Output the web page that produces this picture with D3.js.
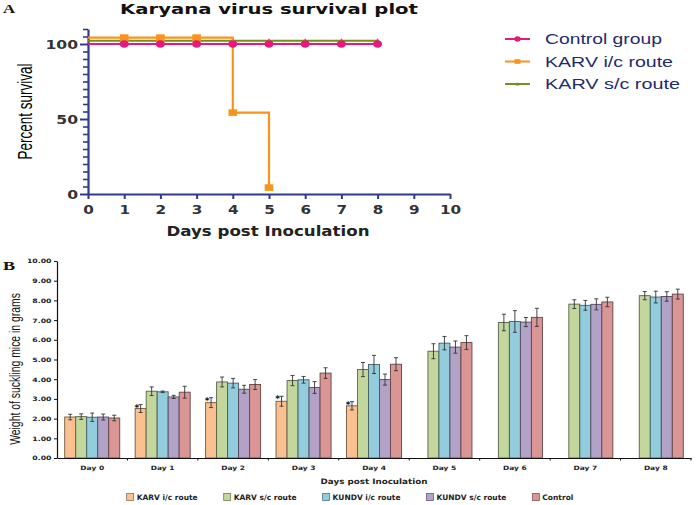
<!DOCTYPE html>
<html><head><meta charset="utf-8">
<script src="https://cdn.jsdelivr.net/npm/d3@7/dist/d3.min.js"></script>
<style>html,body{margin:0;padding:0;background:#fff}svg{display:block}</style>
</head><body>
<script>
// ---------- Panel A data ----------
const survivalDays = [0,1,2,3,4,5,6,7,8];
const controlSurvival = [100,100,100,100,100,100,100,100,100];
const karvScSurvival = [100,100,100,100,100,100,100,100,100];
const karvIcDays = [0,1,2,3,4,5];
const karvIcSurvival = [100,100,100,100,50,0];
const survivalXTicks = [0,1,2,3,4,5,6,7,8,9,10];
const survivalYTicks = [0,50,100];
const survivalLegend = ["Control group","KARV i/c route","KARV s/c route"];

// ---------- Panel B data ----------
const days = ["Day 0","Day 1","Day 2","Day 3","Day 4","Day 5","Day 6","Day 7","Day 8"];
const groups = ["KARV i/c route","KARV s/c route","KUNDV i/c route","KUNDV s/c route","Control"];
const karvIcWeight   = [2.08,2.51,2.81,2.88,2.65,null,null,null,null];
const karvIcErr      = [0.14,0.20,0.25,0.25,0.21,null,null,null,null];
const karvScWeight   = [2.10,3.39,3.86,3.93,4.49,5.42,6.88,7.81,8.24];
const karvScErr      = [0.14,0.22,0.25,0.26,0.36,0.38,0.42,0.22,0.21];
const kundvIcWeight  = [2.07,3.36,3.80,3.97,4.75,5.83,6.93,7.75,8.17];
const kundvIcErr     = [0.21,0.04,0.24,0.17,0.46,0.34,0.55,0.25,0.30];
const kundvScWeight  = [2.08,3.10,3.49,3.58,3.98,5.63,6.90,7.80,8.20];
const kundvScErr     = [0.15,0.08,0.20,0.30,0.28,0.31,0.23,0.28,0.24];
const controlWeight  = [2.03,3.34,3.73,4.31,4.76,5.86,7.14,7.92,8.32];
const controlErr     = [0.14,0.30,0.25,0.27,0.33,0.35,0.46,0.24,0.25];
const karvIcSignificant = [false,true,true,true,true,false,false,false,false];
const weightYTicks = [0,1,2,3,4,5,6,7,8,9,10];

const W = 696, H = 505;
const svg = d3.select("body").append("svg").attr("width",W).attr("height",H)
  .style("background","#fff");

function stretchText(sel, sx){
  sel.each(function(){
    const t = d3.select(this);
    const x = +(t.attr("x")||0), y = +(t.attr("y")||0);
    t.attr("x",null).attr("y",null).attr("transform",`translate(${x},${y}) scale(${sx},1)`);
  });
}

// =================== PANEL A ===================
const navy = "#2e3a8c";
const xA = d3.scaleLinear().domain([0,10]).range([88,450]);
const yA = d3.scaleLinear().domain([0,110]).range([194,29]);
const gA = svg.append("g");

gA.append("text").attr("transform","translate(3,13) scale(1.4,1)")
  .attr("font-family","Liberation Serif").attr("font-weight","bold").attr("font-size",12)
  .attr("fill","#111").text("A");

gA.append("text").attr("x",269).attr("y",14).attr("text-anchor","middle")
  .attr("font-family","DejaVu Sans").attr("font-weight","bold").attr("font-size",14)
  .attr("textLength",298).attr("lengthAdjust","spacingAndGlyphs")
  .attr("fill","#111").text("Karyana virus survival plot");

// minor y ticks
const yMinor = d3.range(0,111,5).filter(v=>v%50!==0);
gA.append("g").attr("transform",`translate(${xA(0)},0)`)
  .call(d3.axisLeft(yA).tickValues(yMinor).tickSize(5).tickSizeOuter(0).tickFormat(""))
  .call(g=>g.select(".domain").remove())
  .call(g=>g.selectAll("line").attr("stroke",navy).attr("stroke-width",1.6));
const yAxA = gA.append("g").attr("transform",`translate(${xA(0)},0)`)
  .call(d3.axisLeft(yA).tickValues(survivalYTicks).tickSize(8).tickPadding(2).tickSizeOuter(0));
yAxA.select(".domain").attr("stroke",navy).attr("stroke-width",2.2);
yAxA.selectAll("line").attr("stroke",navy).attr("stroke-width",2);
yAxA.selectAll("text").attr("font-family","DejaVu Sans").attr("font-weight","bold")
  .attr("font-size",12.5).attr("fill","#333");
stretchText(yAxA.selectAll("text"),1.25);

const xAxA = gA.append("g").attr("transform",`translate(0,${yA(0)})`)
  .call(d3.axisBottom(xA).tickValues(survivalXTicks).tickSize(5).tickPadding(6.5).tickSizeOuter(0).tickFormat(d3.format("d")));
xAxA.select(".domain").attr("stroke",navy).attr("stroke-width",2);
xAxA.selectAll("line").attr("stroke",navy).attr("stroke-width",2);
xAxA.selectAll("text").attr("font-family","DejaVu Sans").attr("font-weight","bold")
  .attr("font-size",12.5).attr("fill","#333");
stretchText(xAxA.selectAll("text"),1.22);

gA.append("text").attr("x",268).attr("y",236).attr("text-anchor","middle")
  .attr("font-family","DejaVu Sans").attr("font-weight","bold").attr("font-size",14)
  .attr("textLength",203).attr("lengthAdjust","spacingAndGlyphs")
  .attr("fill","#222").text("Days post Inoculation");

gA.append("text").attr("transform",`translate(31.5,${(yA(0)+yA(110))/2}) scale(1.5,1) rotate(-90)`)
  .attr("text-anchor","middle").attr("font-family","Liberation Sans").attr("font-size",13.5)
  .attr("fill","#000").text("Percent survival");

const seriesA = [
  {name:"KARV s/c route", days:survivalDays, vals:karvScSurvival, color:"#7f8b1d", shape:"triangle", dy:-3.2, sw:2},
  {name:"KARV i/c route", days:karvIcDays, vals:karvIcSurvival, color:"#f7941d", shape:"square", dy:-6.4, sw:2.2},
  {name:"Control group", days:survivalDays, vals:controlSurvival, color:"#e8197d", shape:"circle", dy:0, sw:1.8}
];
const lineA = d3.line().curve(d3.curveStepAfter);
function marker(g, shape, color, x, y, s){
  if(shape==="circle") g.append("ellipse").attr("cx",x).attr("cy",y).attr("rx",4.5*s).attr("ry",3.8*s).attr("fill",color);
  else if(shape==="square") g.append("rect").attr("x",x-4.3*s).attr("y",y-3.3*s).attr("width",8.6*s).attr("height",6.6*s).attr("fill",color);
  else g.append("path").attr("d",`M${x-3*s},${y+2*s}L${x+3*s},${y+2*s}L${x},${y-2.5*s}Z`).attr("fill",color);
}
seriesA.forEach(s=>{
  const pts = s.days.map((d,i)=>[xA(d), yA(s.vals[i])+s.dy]);
  gA.append("path").attr("d",lineA(pts)).attr("fill","none").attr("stroke",s.color).attr("stroke-width",s.sw);
  const mg = gA.append("g");
  s.days.forEach((d,i)=>{ if(d>0) marker(mg, s.shape, s.color, xA(d), yA(s.vals[i])+s.dy, 1); });
});

// legend A
const legA = gA.append("g");
const legLengths = [117,128,135];
survivalLegend.forEach((name,i)=>{
  const s = seriesA.find(q=>q.name===name);
  const y = 39 + i*22.5;
  legA.append("line").attr("x1",505).attr("x2",530).attr("y1",y).attr("y2",y)
    .attr("stroke",s.color).attr("stroke-width",2);
  marker(legA, s.shape, s.color, 517.5, y, 0.7);
  legA.append("text").attr("x",545).attr("y",y+5.4).attr("font-family","Liberation Sans")
    .attr("font-size",15).attr("fill","#1f2a70")
    .attr("textLength",legLengths[i]).attr("lengthAdjust","spacingAndGlyphs").text(name);
});

// =================== PANEL B ===================
const gB = svg.append("g");
const x0 = d3.scaleBand().domain(days).range([57,691]).paddingInner(0).paddingOuter(0);
const x1 = d3.scaleBand().domain(groups).range([0,x0.bandwidth()]).paddingInner(0).paddingOuter(0.7);
const yB = d3.scaleLinear().domain([0,10]).range([458,261]);
const fills = ["#fac090","#c3d69b","#93cddd","#b3a2c7","#d99694"];
const color = d3.scaleOrdinal().domain(groups).range(fills);
const weights = [karvIcWeight,karvScWeight,kundvIcWeight,kundvScWeight,controlWeight];
const errs = [karvIcErr,karvScErr,kundvIcErr,kundvScErr,controlErr];

gB.append("text").attr("transform","translate(3,270) scale(1.4,1)")
  .attr("font-family","Liberation Serif").attr("font-weight","bold").attr("font-size",13)
  .attr("fill","#111").text("B");

const yAxB = gB.append("g").attr("transform","translate(57,0)")
  .call(d3.axisLeft(yB).tickValues(weightYTicks).tickSize(3).tickPadding(2.5).tickSizeOuter(0).tickFormat(d3.format(".2f")));
yAxB.select(".domain").attr("stroke","#111").attr("stroke-width",1.2);
yAxB.selectAll("line").attr("stroke","#111");
yAxB.selectAll("text").attr("font-family","DejaVu Sans").attr("font-weight","bold")
  .attr("font-size",6).attr("fill","#222");
stretchText(yAxB.selectAll("text"),1.3);

gB.append("text").attr("transform",`translate(19.5,369) scale(1.35,1) rotate(-90)`)
  .attr("text-anchor","middle").attr("font-family","Liberation Sans").attr("font-size",10.4)
  .attr("fill","#111").text("Weight of suckling mice in grams");

// bars
const dayG = gB.selectAll("g.day").data(days).join("g").attr("class","day")
  .attr("transform",d=>`translate(${x0(d)},0)`);
groups.forEach((grp,gi)=>{
  dayG.each(function(day,di){
    const v = weights[gi][di];
    if(v==null) return;
    const e = errs[gi][di];
    const g = d3.select(this);
    const bx = x1(grp), bw = x1.bandwidth(), cx = bx + bw/2;
    g.append("rect").attr("x",bx).attr("y",yB(v)).attr("width",bw).attr("height",yB(0)-yB(v))
      .attr("fill",color(grp)).attr("stroke",d3.color(color(grp)).darker(2.2)).attr("stroke-width",0.9);
    g.append("line").attr("x1",cx).attr("x2",cx).attr("y1",yB(v-e)).attr("y2",yB(v+e)).attr("stroke","#333").attr("stroke-width",0.9);
    [v-e,v+e].forEach(t=>g.append("line").attr("x1",cx-2).attr("x2",cx+2).attr("y1",yB(t)).attr("y2",yB(t)).attr("stroke","#333").attr("stroke-width",0.9));
    if(gi===0 && karvIcSignificant[di]){
      g.append("text").attr("x",cx-1.5).attr("y",yB(v+e)+6).attr("text-anchor","end")
        .attr("font-family","DejaVu Sans").attr("font-weight","bold").attr("font-size",9)
        .attr("fill","#111").text("*");
    }
  });
});

// x axis B
const xAxB = gB.append("g").attr("transform",`translate(0,${yB(0)})`)
  .call(d3.axisBottom(x0).tickSize(0).tickPadding(8).tickSizeOuter(0));
xAxB.select(".domain").attr("stroke","#111").attr("stroke-width",1.2);
xAxB.selectAll("text").attr("font-family","DejaVu Sans").attr("font-weight","bold")
  .attr("font-size",6).attr("fill","#222");
stretchText(xAxB.selectAll("text"),1.25);
gB.append("g").selectAll("line").data(days.slice(1).concat(["__end"])).join("line")
  .attr("x1",d=>d==="__end"?x0.range()[1]:x0(d)).attr("x2",d=>d==="__end"?x0.range()[1]:x0(d))
  .attr("y1",yB(0)).attr("y2",yB(0)+2.5).attr("stroke","#111").attr("stroke-width",1);

gB.append("text").attr("x",(x0.range()[0]+x0.range()[1])/2).attr("y",484).attr("text-anchor","middle")
  .attr("font-family","DejaVu Sans").attr("font-weight","bold").attr("font-size",7.5)
  .attr("textLength",107).attr("lengthAdjust","spacingAndGlyphs")
  .attr("fill","#222").text("Days post Inoculation");

// legend B
const legB = gB.append("g");
let lx = 0;
const legGap = 26;
groups.forEach((grp,i)=>{
  const it = legB.append("g").attr("transform",`translate(${lx},0)`);
  it.append("rect").attr("x",0).attr("y",-6.5).attr("width",7).attr("height",7)
    .attr("fill",color(grp)).attr("stroke",d3.color(color(grp)).darker(1.5)).attr("stroke-width",0.8);
  const t = it.append("text").attr("x",10).attr("y",0).attr("font-family","DejaVu Sans").attr("font-weight","bold")
    .attr("font-size",7.5).attr("fill","#222").text(grp);
  lx += 10 + t.node().getComputedTextLength() + legGap;
});
const legW = lx - legGap;
legB.attr("transform",`translate(${350 - legW/2},500)`);
</script>
</body></html>
